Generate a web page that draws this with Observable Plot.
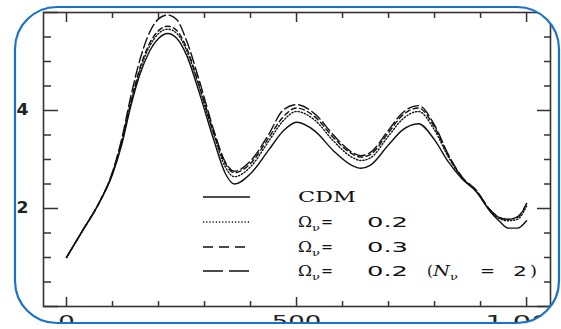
<!DOCTYPE html>
<html><head><meta charset="utf-8">
<script src="https://cdn.jsdelivr.net/npm/d3@7"></script>
<script src="https://cdn.jsdelivr.net/npm/@observablehq/plot@0.6"></script>
<style>body{margin:0;background:#fff}#chart{width:561px;height:329px;position:relative;overflow:hidden}</style>
</head><body><div id="chart"></div>
<script>
// multipole l
const ell = [0,35,70,100,120,140,160,180,200,220,240,260,289,320,345,365,400,440,470,500,540,580,620,640,660,700,730,765,800,830,860,890,920,940,960,980,1000];
const cdm = [1.0,1.55,2.1,2.7,3.3,4.1,4.75,5.2,5.47,5.57,5.47,5.15,4.35,3.4,2.72,2.5,2.71,3.2,3.57,3.76,3.58,3.18,2.88,2.82,2.88,3.3,3.6,3.73,3.4,2.95,2.6,2.35,1.95,1.75,1.6,1.6,1.75];
const omega02 = [1.0,1.55,2.1,2.72,3.35,4.15,4.83,5.3,5.57,5.66,5.57,5.25,4.45,3.5,2.85,2.65,2.85,3.38,3.78,3.98,3.8,3.38,3.05,2.98,3.03,3.48,3.82,3.98,3.6,3.05,2.62,2.36,1.97,1.8,1.75,1.78,2.05];
const omega03 = [1.0,1.55,2.1,2.72,3.37,4.18,4.88,5.36,5.63,5.72,5.63,5.3,4.5,3.55,2.92,2.73,2.92,3.45,3.86,4.05,3.87,3.45,3.12,3.05,3.1,3.55,3.9,4.05,3.66,3.08,2.63,2.37,1.98,1.82,1.78,1.82,2.1];
const omega02n2 = [1.0,1.55,2.1,2.75,3.42,4.3,5.05,5.58,5.87,5.95,5.85,5.45,4.6,3.6,2.95,2.76,2.97,3.52,4.0,4.12,3.93,3.5,3.15,3.08,3.14,3.6,3.95,4.1,3.7,3.1,2.64,2.38,1.98,1.82,1.78,1.83,2.1];
const seriesNames = ["CDM", "Ων= 0.2", "Ων= 0.3", "Ων= 0.2 (Nν = 2)"];
const xMajorTicks = [0, 500, 1000];
const xMinorTicks = [100, 200, 300, 400, 600, 700, 800, 900];
const yMajorTicks = [0, 2, 4, 6];
const yMinorTicks = [0.5, 1, 1.5, 2.5, 3, 3.5, 4.5, 5, 5.5];
const xTickLabels = [0, 500, 1000];
const yTickLabels = [2, 4];

const allSeries = [cdm, omega02, omega03, omega02n2];
const rows = [];
allSeries.forEach((vals, s) => vals.forEach((v, i) => rows.push({l: ell[i], v, s: seriesNames[s]})));

const curveDash = [null, "1.2,2", "5,3.5", "11,4"];
const legendDash = [null, "1.2,2", "10,6", "20,6"];

const lineMarks = seriesNames.map((name, k) =>
  Plot.line(rows.filter(d => d.s === name), {
    x: "l", y: "v", curve: "monotone-x", stroke: "#111",
    strokeWidth: 1.4, strokeDasharray: curveDash[k]
  })
);

const noText = () => "";
const plot = Plot.plot({
  width: 561, height: 329,
  marginLeft: 43, marginRight: 11, marginTop: 12, marginBottom: 23,
  style: {fontFamily: "DejaVu Sans", fontSize: "15px", background: "white", overflow: "visible"},
  x: {domain: [-50, 1052], axis: null},
  y: {domain: [0, 6], axis: null},
  marks: [
    Plot.axisX(xMajorTicks, {anchor: "bottom", tickSize: -9, tickFormat: noText, label: null, stroke: "#333", strokeWidth: 1.5}),
    Plot.axisX(xMinorTicks, {anchor: "bottom", tickSize: -5, tickFormat: noText, label: null, stroke: "#333", strokeWidth: 1.5}),
    Plot.axisX(xMajorTicks, {anchor: "top", tickSize: -9, tickFormat: noText, label: null, stroke: "#333", strokeWidth: 1.5}),
    Plot.axisX(xMinorTicks, {anchor: "top", tickSize: -5, tickFormat: noText, label: null, stroke: "#333", strokeWidth: 1.5}),
    Plot.axisY(yMajorTicks, {anchor: "left", tickSize: -15, tickFormat: noText, label: null, stroke: "#333", strokeWidth: 1.5}),
    Plot.axisY(yMinorTicks, {anchor: "left", tickSize: -8, tickFormat: noText, label: null, stroke: "#333", strokeWidth: 1.5}),
    Plot.axisY(yMajorTicks, {anchor: "right", tickSize: -14, tickFormat: noText, label: null, stroke: "#333", strokeWidth: 1.5}),
    Plot.axisY(yMinorTicks, {anchor: "right", tickSize: -7, tickFormat: noText, label: null, stroke: "#333", strokeWidth: 1.5}),
    Plot.axisX(xTickLabels, {anchor: "bottom", tickSize: 0, tickPadding: 10, label: null, fill: "#222"}),
    Plot.axisY(yTickLabels, {anchor: "left", tickSize: 0, tickPadding: 15, label: null, fill: "#222"}),
    Plot.frame({stroke: "#333", strokeWidth: 1.6}),
    ...lineMarks
  ]
});

document.getElementById("chart").appendChild(plot);

const svg = d3.select(plot);
svg.selectAll("g[aria-label='x-axis tick label'] text").each(function() {
  const t = this.textContent;
  if (t) d3.select(this).attr("textLength", 16.5 * t.length).attr("lengthAdjust", "spacingAndGlyphs");
});
svg.selectAll("g[aria-label='y-axis tick label'] text").each(function() {
  const t = this.textContent;
  if (t) d3.select(this).attr("textLength", 12 * t.length).attr("lengthAdjust", "spacingAndGlyphs").attr("font-weight", 600);
});

// legend
const lg = svg.append("g").attr("class", "legend").attr("text-anchor", "start");
const rowY = [197, 222, 247, 271];
seriesNames.forEach((name, k) => {
  const y = rowY[k];
  lg.append("line").attr("x1", 203).attr("x2", 250).attr("y1", y).attr("y2", y)
    .attr("stroke", "#111").attr("stroke-width", 1.3)
    .attr("stroke-dasharray", legendDash[k]);
});
function piece(x, y, str, opts = {}) {
  const t = lg.append("text").attr("x", x).attr("y", y).text(str)
    .attr("text-anchor", "start")
    .attr("font-family", opts.family || "DejaVu Serif")
    .attr("font-size", opts.size || 14)
    .attr("fill", "#111");
  if (opts.italic) t.attr("font-style", "italic");
  if (opts.len) t.attr("textLength", opts.len).attr("lengthAdjust", "spacingAndGlyphs");
  return t;
}
piece(298, 202, seriesNames[0], {len: 58});
const values = ["0.2", "0.3", "0.2"];
[1, 2, 3].forEach((k, j) => {
  const b = rowY[k] + 5;
  piece(298, b, "Ω", {len: 14});
  piece(312, b + 4, "ν", {size: 10, len: 8});
  piece(321, b, "=", {len: 12});
  piece(367, b, values[j], {family: "DejaVu Sans", len: 41});
});
{
  const b = rowY[3] + 5;
  piece(427, b, "(", {len: 6});
  piece(433, b, "N", {italic: true, len: 17});
  piece(450, b + 4, "ν", {size: 10, len: 8});
  piece(480, b, "=", {len: 15});
  piece(513, b, "2", {family: "DejaVu Sans", len: 14});
  piece(530, b, ")", {len: 7});
}

// clip everything to the rounded blue frame
const defs = svg.insert("defs", ":first-child");
defs.append("clipPath").attr("id", "roundclip")
  .append("rect").attr("x", 15).attr("y", 7).attr("width", 544).attr("height", 316).attr("rx", 42).attr("ry", 42);
const g = svg.append("g").attr("clip-path", "url(#roundclip)");
Array.from(plot.childNodes).forEach(n => {
  if (n === defs.node() || n === g.node()) return;
  if (n.nodeName && n.nodeName.toLowerCase() === "style") return;
  g.node().appendChild(n);
});
svg.append("rect").attr("x", 15).attr("y", 7).attr("width", 544).attr("height", 316)
  .attr("rx", 42).attr("ry", 42).attr("fill", "none")
  .attr("stroke", "#1a73c8").attr("stroke-width", 2.2);
</script>
</body></html>
